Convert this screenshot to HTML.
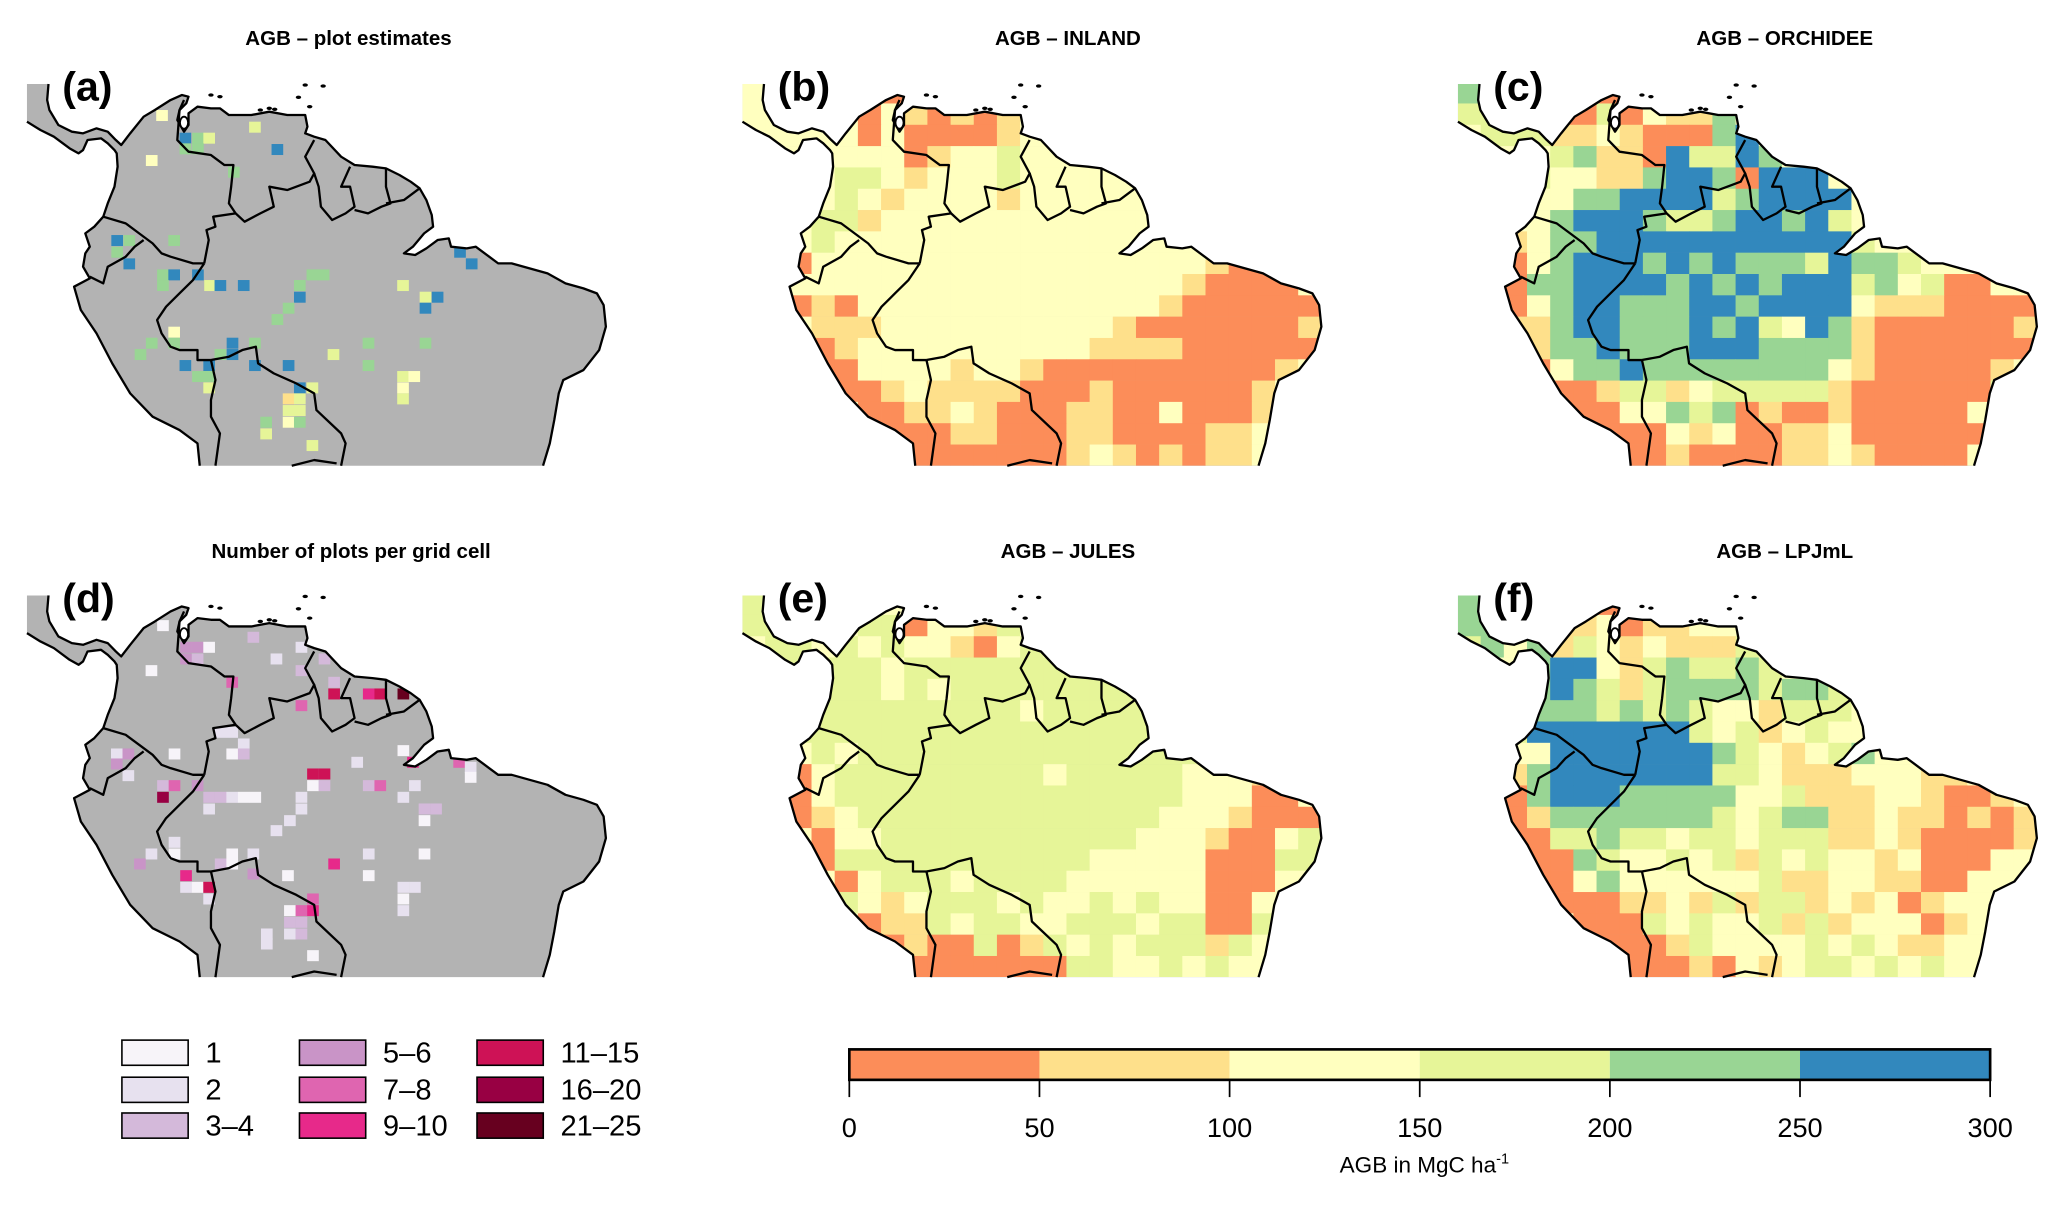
<!DOCTYPE html>
<html><head><meta charset="utf-8"><title>AGB maps</title>
<style>
html,body{margin:0;padding:0;background:#fff;}
svg{display:block;font-family:"Liberation Sans",Arial,sans-serif;}
</style></head>
<body>
<svg id="fig" xmlns="http://www.w3.org/2000/svg" width="2067" height="1206" viewBox="0 0 1560 910.2">
<defs><clipPath id="land" clipPathUnits="userSpaceOnUse"><polygon id="landPoly" points=""/></clipPath></defs>
<g id="panels"></g>
<g id="legend-count"></g>
<g id="colorbar"></g>
</svg>
<script>
const agbColors=['#fc8d59','#fee08b','#ffffbf','#e6f598','#99d594','#3288bd'];
const agbBreaks=[0,50,100,150,200,250,300];
const countLabels=['1','2','3\u20134','5\u20136','7\u20138','9\u201310','11\u201315','16\u201320','21\u201325'];
const countColors=['#f7f4f9','#e7e1ef','#d4b9da','#c994c7','#df65b0','#e7298a','#ce1256','#980043','#67001f'];
const gridB=["2222220222222222222222222","2222202101012222222222222","2222202000012222222222222","2222222012232222222222222","2222332122232222222222222","2222321222212222222222222","2223312222222222222222222","2223222222222222222222222","2202222222222222222210022","2022222222222222222100002","2201022222222222221000000","2221112222222222100000001","2220122222222221111000000","2220022221221000000000012","2222001211110001000000122","2222200112100011002000122","2222220001100011000011222","2222222000000012101011222"];
const gridC=["4222220222222222222222222","3322003021142222222222222","2333112100045222222222222","2222341105335422222222222","2223221145540555222222222","2222244555534555522222222","2222455543345545322222222","2212445555555555532222222","2202455545454443544322222","2204455554545455534230022","2202455444554555521110000","2211455444545325410000001","2221445444555444410000000","2220244544444444210000012","2222001331233333100000032","2222000224340100100000222","2222220002120011200000022","2222222001000011210000222"];
const gridE=["3222222322222222222222222","3322233022132222222222222","2332323221023222222222222","3333332333333333333333333","3333332323333333333333333","3333333333332333333333333","3333333333333333333333333","3323233333333333333333333","3302333333333233333222122","2002333333333333333222002","2201233333333333332221000","2220223333333333322210023","2220333333333332222200033","2222023332333322222200022","2222321233323223232200222","2222201132332233323300322","2222220100301323233313222","2222222000000033223232222"];
const gridF=["4222220022222222222222222","4422112011222222222222222","3424132121113222222222222","2224552134334322222222222","2224543134444344322222222","2224443434322133322222222","2235555555323123222222222","2222555555543212342222222","2214555555533211122211222","2004555444442231112210012","2201444444432344112110101","2200334332332333112100001","2210043223231323221200022","2220024222222311221100222","2222000112131331212012222","2222200032322313122201222","2222220001322223232112222","2222222000102123323232222"];
const plotPts=[[348,330,2],[555,365,3],[400,398,5],[428,398,4],[453,398,3],[400,430,4],[428,430,4],[605,432,5],[325,465,2],[508,500,4],[248,705,5],[275,705,4],[375,705,4],[248,740,4],[275,775,5],[350,808,4],[375,808,5],[428,808,5],[350,840,4],[455,840,3],[478,840,5],[530,840,5],[683,808,4],[708,808,4],[655,840,4],[655,875,5],[885,840,3],[935,875,3],[962,875,5],[935,908,5],[630,908,4],[605,942,4],[1012,740,5],[1038,775,5],[375,980,2],[325,1013,4],[375,1013,4],[300,1047,4],[555,1013,4],[505,1013,5],[505,1047,5],[478,1047,4],[400,1080,5],[453,1080,5],[555,1080,5],[630,1080,5],[730,1047,3],[808,1013,4],[935,1013,4],[808,1080,4],[428,1113,4],[453,1113,4],[453,1147,3],[655,1147,5],[683,1147,3],[630,1180,1],[655,1180,3],[630,1215,3],[655,1215,3],[630,1250,2],[655,1250,4],[580,1250,4],[580,1285,3],[683,1320,3],[885,1113,3],[910,1113,2],[885,1147,2],[885,1180,3]];
const countPtsZ=[[370,105,0],[430,170,3],[460,170,3],[490,170,0],[430,205,3],[460,205,2],[605,140,2],[340,240,0],[665,205,1],[730,170,1],[730,240,2],[790,205,2],[550,275,4],[815,275,2],[815,310,6],[905,310,5],[935,310,6],[995,310,8],[730,345,4],[520,425,1],[550,425,1],[580,460,1],[550,490,0],[580,490,2],[250,490,1],[280,490,3],[250,520,3],[280,555,1],[400,490,0],[875,515,1],[995,480,0],[1020,515,5],[1140,515,4],[1170,530,1],[1170,560,0],[760,550,6],[790,550,6],[760,585,0],[790,585,2],[905,585,2],[935,585,4],[1025,585,1],[995,620,1],[370,585,2],[400,585,4],[460,585,3],[370,620,7],[490,620,2],[520,620,2],[550,620,1],[580,620,0],[610,620,0],[490,655,1],[730,620,1],[730,655,1],[700,690,1],[665,720,1],[1050,655,2],[1080,655,2],[1050,690,0],[400,755,1],[400,790,0],[340,790,1],[310,820,3],[550,790,0],[605,790,1],[520,820,2],[550,820,0],[605,850,3],[905,790,1],[1050,790,0],[815,820,5],[695,855,0],[905,855,0],[430,855,5],[430,890,1],[460,890,0],[490,890,6],[490,925,1],[995,890,1],[1025,890,1],[995,925,0],[995,960,1],[760,925,4],[700,960,0],[730,960,4],[760,960,5],[700,995,2],[730,995,2],[700,1030,1],[730,1030,2],[640,1030,1],[640,1060,1],[760,1095,0]];

const NS='http://www.w3.org/2000/svg';
function mk(tag,attrs,parent){const e=document.createElementNS(NS,tag);for(const k in attrs)e.setAttribute(k,attrs[k]);if(parent)parent.appendChild(e);return e;}
const northCoast=[[108,252],[105,300],[110,330],[130,375],[160,395],[185,400],[215,385],[240,395],[258,420],[270,435],[290,400],[320,350],[345,330],[380,300],[405,285],[420,290],[415,310],[400,330],[395,360],[410,395],[420,375],[420,340],[440,320],[470,325],[490,325],[510,345],[560,345],[600,335],[640,345],[680,345],[685,380],[680,400],[700,410],[725,420],[760,470],[790,495],[830,500],[860,505],[890,525],[915,545],[935,565],[950,600],[962,645],[965,680],[945,700],[920,740],[900,760],[925,765],[950,745],[975,720],[1000,715],[1005,740],[1040,745],[1060,740],[1090,770],[1110,790],[1140,790],[1180,805],[1220,820],[1260,850],[1300,865],[1330,880],[1345,915],[1350,980],[1335,1050],[1300,1110],[1255,1140],[1245,1180],[1235,1260],[1225,1330],[1210,1397]];
const westCoast=[[445,1397],[440,1330],[400,1290],[340,1250],[290,1180],[250,1090],[215,1000],[180,930],[165,860],[200,835],[185,800],[190,760],[200,740],[190,700],[210,680],[230,650],[240,610],[255,560],[262,500],[260,460],[255,450],[240,430],[225,415],[195,420],[185,450],[175,460],[155,445],[120,410],[90,390],[60,365]];
const borders=[
[[410,300],[400,330],[395,420],[420,455],[470,465],[500,495],[520,495],[515,560],[510,610],[525,640],[545,665],[580,640],[610,620],[600,560],[640,570],[690,545],[700,520],[680,470],[700,420]],
[[700,520],[710,560],[715,620],[740,660],[770,640],[790,620],[780,560],[760,560],[780,500]],
[[790,630],[820,640],[850,620],[870,610],[860,560],[860,505]],
[[860,610],[900,600],[935,565]],
[[230,650],[280,670],[310,700],[340,730],[360,760],[380,770],[430,790],[455,790]],
[[200,830],[230,850],[240,800],[280,770],[300,740],[320,720]],
[[455,790],[465,720],[460,690],[480,680],[475,650],[525,640]],
[[455,790],[430,840],[400,880],[370,920],[350,960],[360,1000],[380,1040],[400,1050],[440,1050],[440,1080],[470,1080]],
[[470,1080],[510,1070],[540,1050],[570,1040],[575,1090],[610,1120],[660,1150],[700,1180],[705,1230],[760,1300],[770,1330],[760,1397]],
[[470,1080],[480,1140],[470,1200],[470,1250],[490,1300],[480,1397]],
[[650,1397],[700,1380],[750,1390]]
];
const islands=[[680,255],[720,258],[665,292],[690,320],[580,330],[600,325],[470,285],[490,290],[612,328]];
const pts=a=>a.map(p=>p.join(',')).join(' ');
document.getElementById('landPoly').setAttribute('points',pts(northCoast.concat(westCoast).concat([[60,252]])));

const CW=1291/25, CH=1151/18;
const panelsG=document.getElementById('panels');
function makePanel(px,py,key,title,tx,ty,label){
  const t=mk('text',{x:tx,y:ty,'text-anchor':'middle','font-size':15.5,'font-weight':'bold',fill:'#000'},panelsG);
  
  
  t.textContent=title;
  const outer=mk('g',{transform:`translate(${px},${py}) scale(0.3387,0.2516) translate(-59,-246.4)`},panelsG);
  
  
  const land=mk('polygon',{points:pts(northCoast.concat(westCoast).concat([[60,252]])),fill:'#b3b3b3',stroke:'none'},outer);
  
  
  const cells=mk('g',{'clip-path':'url(#land)'},outer);
  
  
  const deco=mk('g',{},outer);
  
  
  const lb=mk('text',{x:px+27,y:py+14,'font-size':31,'font-weight':'bold',fill:'#000'},panelsG);
  
  
  lb.textContent=label;
  return {cells,deco};
}
function drawOutlines(g){
  const sw={fill:'none',stroke:'#000','stroke-width':2.3,'vector-effect':'non-scaling-stroke','stroke-linejoin':'round'};
  const c1=mk('polyline',Object.assign({points:pts(northCoast)},sw),g);
  
  
  const c2=mk('polyline',Object.assign({points:pts(westCoast)},sw),g);
  
  
  borders.forEach(b=>{
    const l=mk('polyline',Object.assign({points:pts(b)},sw),g);
    
    
  });
  const lake=mk('ellipse',{cx:410,cy:368,rx:9,ry:18,fill:'#fff',stroke:'#000','stroke-width':1.8,'vector-effect':'non-scaling-stroke'},g);
  
  
  islands.forEach(p=>{
    const d=mk('ellipse',{cx:p[0],cy:p[1],rx:6,ry:5,fill:'#000'},g);
    
    
  });
}
function colX(c){return 59+c*CW;}
function rowY(r){return 246.4+r*CH;}
function drawGrid(g,grid){
  grid.forEach((row,r)=>{
    for(let c=0;c<row.length;c++){
      const v=+row[c];
      const rc=mk('rect',{x:colX(c),y:rowY(r),width:CW+0.8,height:CH+0.8,fill:agbColors[v]},g);
      
      
    }
  });
}
function drawPoints(g,list,colors,conv){
  list.forEach(p=>{
    const q=conv(p);
    const rc=mk('rect',{x:q[0],y:q[1],width:26,height:33,fill:colors[p[2]]},g);
    
    
  });
}
const A=makePanel(20,62,'panel-a','AGB \u2013 plot estimates',263,34,'(a)');
drawPoints(A.cells,plotPts,agbColors,p=>[p[0],p[1]]);drawOutlines(A.deco);
const B=makePanel(560,62,'panel-b','AGB \u2013 INLAND',806,34,'(b)');
drawGrid(B.cells,gridB);drawOutlines(B.deco);
const C=makePanel(1100,62,'panel-c','AGB \u2013 ORCHIDEE',1347,34,'(c)');
drawGrid(C.cells,gridC);drawOutlines(C.deco);
const D=makePanel(20,448,'panel-d','Number of plots per grid cell',265,421,'(d)');
drawPoints(D.cells,countPtsZ,countColors,p=>[p[0]*0.857+33,p[1]+221]);drawOutlines(D.deco);
const E=makePanel(560,448,'panel-e','AGB \u2013 JULES',806,421,'(e)');
drawGrid(E.cells,gridE);drawOutlines(E.deco);
const F=makePanel(1100,448,'panel-f','AGB \u2013 LPJmL',1347,421,'(f)');
drawGrid(F.cells,gridF);drawOutlines(F.deco);

// count legend
const lg=document.getElementById('legend-count');
const lgX=[92,226,360], lgY=[785,813,840];
countLabels.forEach((lab,i)=>{
  const col=Math.floor(i/3), row=i%3;
  const r=mk('rect',{x:lgX[col],y:lgY[row],width:50,height:19,fill:countColors[i],stroke:'#000','stroke-width':1.2},lg);
  
  
  const t=mk('text',{x:lgX[col]+63,y:lgY[row]+17,'font-size':22,fill:'#000'},lg);
  
  
  t.textContent=lab;
});

// colorbar
const cb=document.getElementById('colorbar');
const cbL=641, cbR=1502, cbT=792, cbB=815;
function cbx(v){return cbL+(v-agbBreaks[0])/(agbBreaks[agbBreaks.length-1]-agbBreaks[0])*(cbR-cbL);}
agbColors.forEach((col,i)=>{
  const r=mk('rect',{x:cbx(agbBreaks[i]),y:cbT,width:cbx(agbBreaks[i+1])-cbx(agbBreaks[i]),height:cbB-cbT,fill:col},cb);
  
  
});
const frame=mk('rect',{x:cbL,y:cbT,width:cbR-cbL,height:cbB-cbT,fill:'none',stroke:'#000','stroke-width':2},cb);


agbBreaks.forEach(v=>{
  const l=mk('line',{x1:cbx(v),x2:cbx(v),y1:cbB,y2:828,stroke:'#000','stroke-width':1.3},cb);
  
  
  const t=mk('text',{x:cbx(v),y:858,'text-anchor':'middle','font-size':20.5,fill:'#000'},cb);
  
  
  t.textContent=v;
});
const at=mk('text',{x:1075,y:885,'text-anchor':'middle','font-size':17,fill:'#000'},cb);


at.textContent='AGB in MgC ha';
const sup=mk('tspan',{'font-size':11,dy:-7},at);
sup.textContent='-1';
</script>
</body></html>
